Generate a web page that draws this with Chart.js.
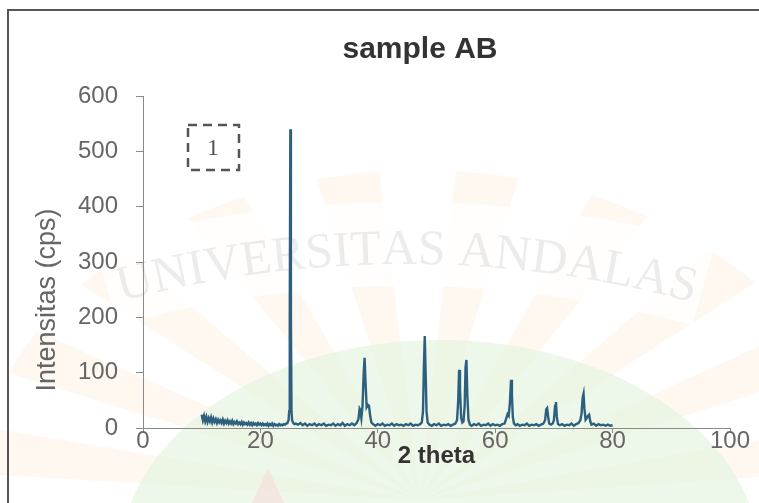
<!DOCTYPE html>
<html>
<head>
<meta charset="utf-8">
<script src="https://cdn.jsdelivr.net/npm/chart.js@4.4.0/dist/chart.umd.min.js"></script>
<style>
  html, body { margin: 0; padding: 0; background: #fff; }
  #wrap { width: 759px; height: 503px; position: relative; }
</style>
</head>
<body>
<div id="wrap"><canvas id="xrdChart"></canvas></div>
<script>
// diffraction scan, 2 theta (deg) against counts
const twoTheta = [
  10.0, 10.2, 10.4, 10.6, 10.8, 11.0, 11.2, 11.4, 11.6, 11.8,
  12.0, 12.2, 12.4, 12.6, 12.8, 13.0, 13.2, 13.4, 13.6, 13.8,
  14.0, 14.2, 14.4, 14.6, 14.8, 15.0, 15.2, 15.4, 15.6, 15.8,
  16.0, 16.2, 16.4, 16.6, 16.8, 17.0, 17.2, 17.4, 17.6, 17.8,
  18.0, 18.2, 18.4, 18.6, 18.8, 19.0, 19.2, 19.4, 19.6, 19.8,
  20.0, 20.2, 20.4, 20.6, 20.8, 21.0, 21.2, 21.4, 21.6, 21.8,
  22.0, 22.2, 22.4, 22.6, 22.8, 23.0, 23.2, 23.4, 23.6, 23.8,
  24.0, 24.2, 24.4, 24.6, 24.8, 24.9, 25.0, 25.1, 25.2, 25.3,
  25.4, 25.6, 25.8, 26.0, 26.4, 26.8, 27.2, 27.6, 28.0, 28.4,
  28.8, 29.2, 29.6, 30.0, 30.4, 30.8, 31.2, 31.6, 32.0, 32.4,
  32.8, 33.2, 33.6, 34.0, 34.4, 34.8, 35.2, 35.6, 36.0, 36.4,
  36.7, 36.9, 37.0, 37.2, 37.4, 37.6, 37.75, 37.9, 38.1, 38.3,
  38.5, 38.7, 38.9, 39.2, 39.6, 40.0, 40.4, 40.8, 41.2, 41.6,
  42.0, 42.4, 42.8, 43.2, 43.6, 44.0, 44.4, 44.8, 45.2, 45.6,
  46.0, 46.4, 46.8, 47.2, 47.5, 47.7, 47.85, 48.0, 48.15, 48.3,
  48.5, 48.8, 49.2, 49.6, 50.0, 50.4, 50.8, 51.2, 51.6, 52.0,
  52.4, 52.8, 53.2, 53.5, 53.7, 53.85, 54.0, 54.2, 54.4, 54.6,
  54.8, 54.95, 55.1, 55.25, 55.45, 55.7, 56.0, 56.4, 56.8, 57.2,
  57.6, 58.0, 58.4, 58.8, 59.2, 59.6, 60.0, 60.4, 60.8, 61.2,
  61.6, 61.9, 62.1, 62.3, 62.5, 62.7, 62.85, 63.0, 63.2, 63.5,
  63.8, 64.2, 64.6, 65.0, 65.4, 65.8, 66.2, 66.6, 67.0, 67.4,
  67.8, 68.2, 68.5, 68.7, 68.85, 69.0, 69.2, 69.5, 69.8, 70.0,
  70.2, 70.35, 70.5, 70.7, 71.0, 71.4, 71.8, 72.2, 72.6, 73.0,
  73.4, 73.8, 74.2, 74.5, 74.7, 74.9, 75.05, 75.2, 75.4, 75.6,
  75.8, 76.0, 76.2, 76.4, 76.8, 77.2, 77.6, 78.0, 78.4, 78.8,
  79.2, 79.6, 80.0
];
const intensity = [
  24, 14, 22, 12, 20, 11, 18, 12, 19, 10,
  17, 11, 16, 9, 15, 10, 14, 9, 15, 8,
  13, 9, 14, 8, 12, 8, 13, 7, 11, 8,
  12, 7, 10, 7, 11, 6, 10, 7, 9, 6,
  10, 6, 9, 5, 9, 6, 8, 5, 9, 6,
  8, 5, 8, 5, 7, 5, 8, 4, 7, 5,
  8, 4, 7, 5, 6, 4, 7, 5, 6, 5,
  7, 6, 8, 9, 14, 30, 200, 540, 200, 30,
  14, 9, 7, 8, 6, 9, 5, 8, 4, 7,
  5, 8, 4, 7, 5, 8, 4, 6, 5, 8,
  4, 7, 5, 9, 4, 7, 5, 8, 5, 9,
  16, 35, 33, 18, 40, 100, 127, 85, 38, 42,
  40, 22, 10, 7, 4, 7, 5, 8, 4, 6,
  5, 8, 4, 7, 5, 6, 4, 7, 5, 8,
  4, 6, 5, 7, 10, 30, 110, 166, 100, 30,
  10, 6, 4, 7, 5, 8, 4, 6, 5, 7,
  4, 6, 8, 14, 50, 105, 70, 18, 10, 12,
  40, 110, 123, 60, 15, 6, 4, 7, 5, 8,
  4, 6, 5, 8, 4, 7, 5, 6, 4, 7,
  8, 18, 25, 22, 45, 87, 60, 20, 8, 5,
  7, 4, 6, 5, 8, 4, 6, 5, 7, 4,
  6, 8, 14, 34, 36, 22, 8, 6, 8, 14,
  40, 47, 20, 7, 5, 7, 4, 6, 5, 8,
  4, 7, 9, 14, 25, 55, 62, 35, 15, 18,
  22, 24, 12, 6, 8, 4, 7, 5, 6, 4,
  6, 4, 5
];
const xTicks = [0, 20, 40, 60, 80, 100];
const yTicks = [0, 100, 200, 300, 400, 500, 600];

const lineColor = '#2d5f7e';
const axisColor = '#8a8a8a';
const labelColor = '#666666';
const sans = 'Arial, "Liberation Sans", sans-serif';

// faint university seal behind the plot, plus frame, tag and y title on top
const backdrop = {
  id: 'backdrop',
  beforeDraw(chart) {
    const ctx = chart.ctx;
    ctx.save();
    // sun rays, squashed so they fan out sideways
    ctx.save();
    ctx.translate(420, 500);
    ctx.scale(1.35, 1);
    ctx.fillStyle = 'rgba(252, 226, 196, 0.24)';
    for (let i = 0; i < 10; i++) {
      const a0 = Math.PI + 0.08 + i * Math.PI / 10;
      ctx.beginPath();
      ctx.moveTo(0, 0);
      ctx.arc(0, 0, 330, a0, a0 + Math.PI / 22);
      ctx.closePath();
      ctx.fill();
    }
    ctx.restore();
    // ribbon behind the name
    const R = 1100, ox = 405, oy = 264 + R;
    ctx.fillStyle = 'rgba(255, 255, 255, 0.85)';
    ctx.beginPath();
    ctx.arc(ox, oy, R + 62, -Math.PI / 2 - 0.27, -Math.PI / 2 + 0.27);
    ctx.arc(ox, oy, R - 22, -Math.PI / 2 + 0.27, -Math.PI / 2 - 0.27, true);
    ctx.closePath();
    ctx.fill();
    // green hill
    ctx.fillStyle = 'rgba(222, 243, 218, 0.55)';
    ctx.beginPath();
    ctx.ellipse(440, 560, 320, 220, 0, Math.PI, 2 * Math.PI);
    ctx.fill();
    // red peak of the emblem
    ctx.fillStyle = 'rgba(250, 215, 215, 0.5)';
    ctx.beginPath();
    ctx.moveTo(268, 468);
    ctx.lineTo(252, 503);
    ctx.lineTo(284, 503);
    ctx.closePath();
    ctx.fill();
    // arched name
    const mark = 'UNIVERSITAS ANDALAS';
    ctx.font = '50px "Liberation Serif", "DejaVu Serif", serif';
    ctx.fillStyle = 'rgba(170, 170, 170, 0.22)';
    ctx.textAlign = 'center';
    ctx.textBaseline = 'alphabetic';
    const total = ctx.measureText(mark).width;
    let ang = -total / 2 / R;
    for (const ch of mark) {
      const w = ctx.measureText(ch).width;
      const a = ang + w / 2 / R;
      ctx.save();
      ctx.translate(ox + R * Math.sin(a), oy - R * Math.cos(a));
      ctx.rotate(a);
      ctx.fillText(ch, 0, 0);
      ctx.restore();
      ang += w / R;
    }
    ctx.restore();
  },
  afterDraw(chart) {
    const ctx = chart.ctx;
    ctx.save();
    // outer frame
    ctx.strokeStyle = '#555';
    ctx.lineWidth = 2;
    ctx.beginPath();
    ctx.moveTo(8, 503);
    ctx.lineTo(8, 10);
    ctx.lineTo(759, 10);
    ctx.stroke();
    // dashed tag
    ctx.lineWidth = 2.5;
    ctx.setLineDash([9, 6]);
    ctx.strokeRect(188, 125, 51, 45);
    ctx.setLineDash([]);
    ctx.fillStyle = '#555';
    ctx.font = '24px "Liberation Serif", serif';
    ctx.textAlign = 'center';
    ctx.textBaseline = 'middle';
    ctx.fillText('1', 213, 149);
    // y axis title
    ctx.translate(48, 300);
    ctx.rotate(-Math.PI / 2);
    ctx.fillStyle = labelColor;
    ctx.font = '27px ' + sans;
    ctx.fillText('Intensitas (cps)', 0, 0);
    ctx.restore();
  }
};

new Chart(document.getElementById('xrdChart'), {
  type: 'line',
  data: {
    datasets: [{
      label: 'sample AB',
      data: twoTheta.map((t, i) => ({ x: t, y: intensity[i] })),
      borderColor: lineColor,
      borderWidth: 2.4,
      pointRadius: 0,
      tension: 0,
      fill: false
    }]
  },
  options: {
    responsive: true,
    maintainAspectRatio: false,
    animation: false,
    layout: { padding: { left: 110, right: 29, top: 0, bottom: 0 } },
    plugins: {
      legend: { display: false },
      tooltip: { enabled: false },
      title: {
        display: true,
        text: 'sample AB',
        color: '#333',
        font: { family: sans, size: 30, weight: 'bold', lineHeight: 1.2 },
        padding: { top: 32, bottom: 28 }
      }
    },
    scales: {
      x: {
        type: 'linear',
        min: 0,
        max: 100,
        afterBuildTicks: s => { s.ticks = xTicks.map(v => ({ value: v })); },
        afterFit: s => { s.height = 75; },
        grid: { display: true, drawOnChartArea: false, drawTicks: true, tickLength: 5, color: axisColor },
        border: { display: true, color: axisColor, width: 1 },
        ticks: {
          color: labelColor,
          padding: -4,
          font: { family: sans, size: 24, lineHeight: 1 }
        },
        title: {
          display: true,
          text: '2 theta',
          color: '#333',
          font: { family: sans, size: 24, weight: 'bold', lineHeight: 1.2 },
          padding: { top: 0, bottom: 32 }
        }
      },
      y: {
        min: 0,
        max: 600,
        afterBuildTicks: s => { s.ticks = yTicks.map(v => ({ value: v })); },
        afterFit: s => { s.width = 33; },
        grid: { display: true, drawOnChartArea: false, drawTicks: true, tickLength: 7, color: axisColor },
        border: { display: true, color: axisColor, width: 1 },
        // labels sit left of the narrow scale box, so mirror them out (mirror skips the clip)
        ticks: {
          color: labelColor,
          mirror: true,
          crossAlign: 'far',
          padding: -65,
          font: { family: sans, size: 24 }
        }
      }
    }
  },
  plugins: [backdrop]
});
</script>
</body>
</html>
